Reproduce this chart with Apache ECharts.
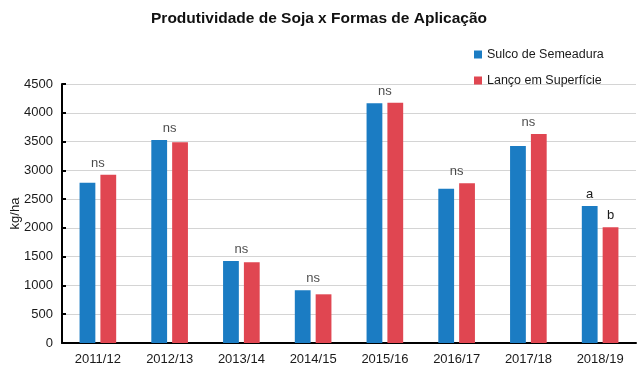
<!DOCTYPE html>
<html>
<head>
<meta charset="utf-8">
<script src="https://cdn.jsdelivr.net/npm/echarts@6/dist/echarts.min.js"></script>
<style>html,body{margin:0;padding:0;background:#fff}#c{width:638px;height:371px}</style>
</head>
<body>
<div id="c"></div>
<script>
var categories = ['2011/12','2012/13','2013/14','2014/15','2015/16','2016/17','2017/18','2018/19'];
var sulco = [2785, 3527, 1425, 915, 4164, 2681, 3423, 2380];
var lanco = [2924, 3487, 1402, 846, 4176, 2775, 3631, 2010];
var pairLabels = ['ns','ns','ns','ns','ns','ns','ns',''];
var sulcoLabels = ['','','','','','','','a'];
var lancoLabels = ['','','','','','','','b'];
var yTicks = [0,500,1000,1500,2000,2500,3000,3500,4000,4500];

var font = 'Liberation Sans, Arial, sans-serif';
var chart = echarts.init(document.getElementById('c'));
var pairMax = sulco.map(function(v,i){return Math.max(v, lanco[i]);});

chart.setOption({
  animation: false,
  textStyle: {fontFamily: font},
  title: {
    text: 'Produtividade de Soja x Formas de Aplicação',
    left: 'center', top: 6,
    textStyle: {fontSize: 15.5, fontWeight: 'bold', color: '#111', fontFamily: font}
  },
  legend: {
    orient: 'vertical', left: 469, top: 43,
    itemWidth: 8, itemHeight: 8, itemGap: 13,
    icon: 'rect',
    textStyle: {fontSize: 12.5, color: '#1a1a1a', fontFamily: font},
    data: ['Sulco de Semeadura','Lanço em Superfície']
  },
  grid: {left: 62, right: 2, top: 84, bottom: 28, outerBoundsMode: 'none', containLabel: false},
  xAxis: {
    type: 'category', data: categories,
    axisLine: {lineStyle: {color: '#000', width: 2}},
    axisTick: {inside: true, length: 5, lineStyle: {color: '#000', width: 2}},
    axisLabel: {fontSize: 13, color: '#1a1a1a', margin: 10, fontFamily: font}
  },
  yAxis: {
    type: 'value', min: yTicks[0], max: yTicks[yTicks.length-1], interval: 500,
    name: 'kg/ha', nameLocation: 'middle', nameGap: 40, nameRotate: 90,
    nameMoveOverlap: false,
    nameTextStyle: {fontSize: 13, color: '#1a1a1a', fontFamily: font},
    axisLine: {show: true, lineStyle: {color: '#000', width: 2}},
    axisTick: {show: true, inside: true, length: 4, lineStyle: {color: '#000', width: 2}},
    axisLabel: {fontSize: 13, color: '#1a1a1a', margin: 9, fontFamily: font,
      formatter: function(v){return String(v);}},
    splitLine: {lineStyle: {color: '#d4d4d4', width: 1}}
  },
  series: [
    {
      name: 'Sulco de Semeadura', type: 'bar', data: sulco,
      barWidth: '22%', barGap: '32%',
      itemStyle: {color: '#1b7cc3'},
      label: {show: true, position: 'top', distance: 5, fontSize: 13, color: '#1a1a1a',
        formatter: function(p){return sulcoLabels[p.dataIndex];}}
    },
    {
      name: 'Lanço em Superfície', type: 'bar', data: lanco,
      barWidth: '22%',
      itemStyle: {color: '#e04651'},
      label: {show: true, position: 'top', distance: 5, fontSize: 13, color: '#1a1a1a',
        formatter: function(p){return lancoLabels[p.dataIndex];}}
    },
    {
      name: 'sig', type: 'scatter', data: pairMax, symbolSize: 0,
      label: {show: true, position: 'top', distance: 5, fontSize: 13, color: '#1a1a1a',
        formatter: function(p){return pairLabels[p.dataIndex];}},
      silent: true
    }
  ]
});
</script>
</body>
</html>
